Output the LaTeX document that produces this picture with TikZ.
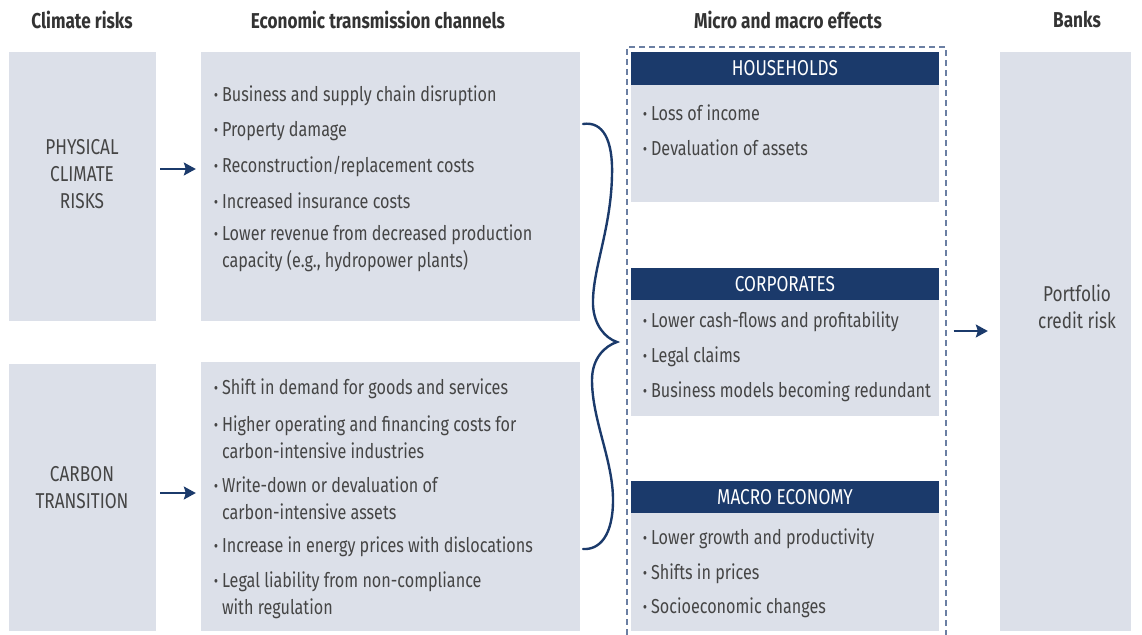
\documentclass[tikz,border=0pt]{standalone}
\usepackage{fontspec}
\setmainfont{Fira Sans}[FakeStretch=0.8]
\usetikzlibrary{arrows.meta}
\definecolor{boxgrey}{HTML}{DCE0E9}
\definecolor{navy}{HTML}{1B3A6B}
\definecolor{txt}{HTML}{454545}
\definecolor{headtxt}{HTML}{333333}
\definecolor{dashc}{HTML}{6B7FA3}
\newcommand\itm{\textbf{\textperiodcentered}\hspace{4pt}}
\newcommand\itmgap{\hphantom{\textbf{\textperiodcentered}\hspace{4pt}}}
\tikzset{
  panel/.style={fill=boxgrey, draw=none, inner sep=0pt},
  bar/.style={fill=navy, draw=none, inner sep=0pt, text=white,
    font=\fontsize{21.5}{24}\selectfont},
  colhead/.style={font=\fontsize{21.5}{24}\selectfont\bfseries, text=headtxt, inner sep=0pt},
  label/.style={font=\fontsize{21.5}{27}\selectfont, text=txt, inner sep=0pt, align=center},
  item/.style={font=\fontsize{20.2}{27}\selectfont, text=txt, inner sep=0pt, align=left,
    anchor=west, yshift=-2pt},
  arr/.style={navy, line width=1.6pt, -{Stealth[length=12pt,width=13pt,inset=2pt]}},
}
\begin{document}
\begin{tikzpicture}[x=1pt,y=-1pt]
\useasboundingbox (0,0) rectangle (1142,634);

% column headings
\node[colhead] (h1) at (82,20) {Climate risks};
\node[colhead] (h2) at (378,20) {Economic transmission channels};
\node[colhead] (h3) at (788,20) {Micro and macro effects};
\node[colhead] (h4) at (1077,20) {Banks};

% climate risk panels
\node[panel, minimum width=147pt, minimum height=269pt] (phys) at (82.5,186.5) {};
\node[panel, minimum width=147pt, minimum height=267pt] (carb) at (82.5,497.5) {};
\node[label] (physl) at (82,174.5) {PHYSICAL\\CLIMATE\\RISKS};
\node[label] (carbl) at (82,488) {CARBON\\TRANSITION};

% transmission channel panels
\node[panel, minimum width=379pt, minimum height=269pt] (chan1) at (390.5,186.5) {};
\node[panel, minimum width=379pt, minimum height=269pt] (chan2) at (390.5,496.5) {};

\node[item] (c11) at (214,94) {\itm Business and supply chain disruption};
\node[item] (c12) at (214,129) {\itm Property damage};
\node[item] (c13) at (214,164) {\itm Reconstruction/replacement costs};
\node[item] (c14) at (214,199) {\itm Increased insurance costs};
\node[item] (c15) at (214,246.5) {\itm Lower revenue from decreased production\\\itmgap capacity (e.g., hydropower plants)};

\node[item] (c21) at (214,387) {\itm Shift in demand for goods and services};
\node[item] (c22) at (214,435) {\itm Higher operating and financing costs for\\\itmgap carbon-intensive industries};
\node[item] (c23) at (214,496.5) {\itm Write-down or devaluation of\\\itmgap carbon-intensive assets};
\node[item] (c24) at (214,545) {\itm Increase in energy prices with dislocations};
\node[item] (c25) at (214,593) {\itm Legal liability from non-compliance\\\itmgap with regulation};

% effects group
\node[draw=dashc, line width=1.3pt, dash pattern=on 6pt off 4pt, minimum width=319pt,
  minimum height=600pt, inner sep=0pt] (grp) at (786.5,347) {};

\node[panel, minimum width=308pt, minimum height=150pt] (hh) at (785,127) {};
\node[bar, minimum width=308pt, minimum height=33pt] (hhb) at (785,68.5) {HOUSEHOLDS};
\node[item] (e11) at (643,111) {\itm Loss of income};
\node[item] (e12) at (643,146) {\itm Devaluation of assets};

\node[panel, minimum width=308pt, minimum height=148pt] (co) at (785,342) {};
\node[bar, minimum width=308pt, minimum height=32pt] (cob) at (785,284) {CORPORATES};
\node[item] (e21) at (643,320) {\itm Lower cash-flows and profitability};
\node[item] (e22) at (643,355) {\itm Legal claims};
\node[item] (e23) at (643,390) {\itm Business models becoming redundant};

\node[panel, minimum width=308pt, minimum height=150pt] (ma) at (785,556) {};
\node[bar, minimum width=308pt, minimum height=32pt] (mab) at (785,497) {MACRO ECONOMY};
\node[item] (e31) at (643,537) {\itm Lower growth and productivity};
\node[item] (e32) at (643,572) {\itm Shifts in prices};
\node[item] (e33) at (643,606) {\itm Socioeconomic changes};

% banks
\node[panel, minimum width=131pt, minimum height=579pt] (bank) at (1065.5,341.5) {};
\node[label] (bankl) at (1077,306.5) {Portfolio\\credit risk};

% connectors
\draw[arr, shorten <=4pt, shorten >=5pt] ([yshift=17.5pt]phys.east) -- ([yshift=17.5pt]phys.east -| chan1.west);
\draw[arr, shorten <=4pt, shorten >=5pt] ([yshift=4.5pt]carb.east) -- ([yshift=4.5pt]carb.east -| chan2.west);
\draw[arr, shorten <=7pt, shorten >=12pt] ([yshift=10.5pt]bank.west -| grp.east) -- ([yshift=10.5pt]bank.west);

% curly brace gathering the channels
\draw[navy, line width=2.4pt, line cap=round]
  (583,124) .. controls (603,121) and (613,140) .. (612,175)
  .. controls (611,230) and (592,270) .. (593,305)
  .. controls (594,325) and (605,338) .. (617,342)
  .. controls (605,346) and (592,358) .. (592,380)
  .. controls (592,420) and (613,460) .. (613,500)
  .. controls (613,535) and (600,550) .. (583,549);
\end{tikzpicture}
\end{document}
